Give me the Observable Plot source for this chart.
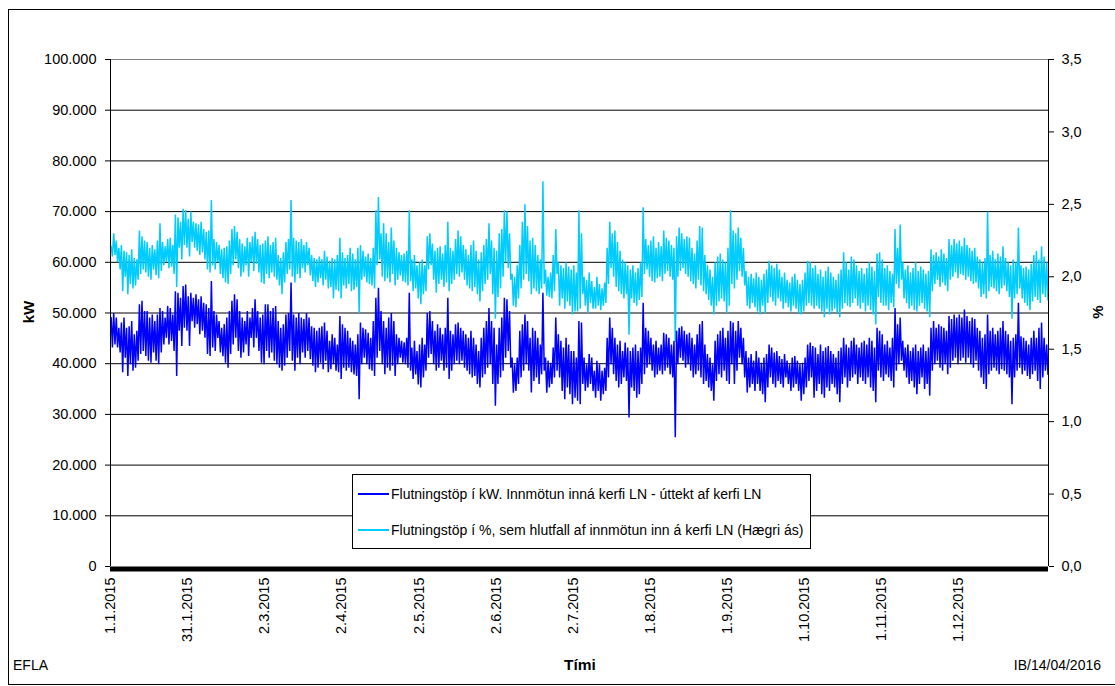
<!DOCTYPE html>
<html>
<head>
<meta charset="utf-8">
<script src="https://cdn.jsdelivr.net/npm/d3@7"></script>
<script src="https://cdn.jsdelivr.net/npm/@observablehq/plot@0.6"></script>
<style>
  html, body { margin: 0; padding: 0; background: #fff; }
  #root { position: relative; width: 1115px; height: 686px; overflow: hidden; background: #fff;
          font-family: "Liberation Sans", Arial, sans-serif; color: #000; }
  #chart { position: absolute; left: 0; top: 0; }
  .abs { position: absolute; white-space: nowrap; }
  .rot { transform: translate(-50%, -50%) rotate(-90deg); font-weight: bold; font-size: 15px; }
</style>
</head>
<body>
<div id="root">
  <div id="chart"></div>
  <div class="abs" style="left:8px;top:9px;width:1130px;height:674px;border:1px solid #000;pointer-events:none"></div>
  <div id="legend" class="abs" style="left:352px;top:474px;width:457px;height:73px;border:1px solid #000;background:#fff;font-size:14px"></div>
  <div id="ylabL" class="abs rot" style="left:28px;top:312px"></div>
  <div id="ylabR" class="abs rot" style="left:1097px;top:312px"></div>
  <div id="xlab" class="abs" style="left:580px;top:665px;transform:translate(-50%,-50%);font-weight:bold;font-size:15.5px"></div>
  <div id="noteL" class="abs" style="left:13px;top:657px;font-size:14px;line-height:16px"></div>
  <div id="noteR" class="abs" style="right:14px;top:657px;font-size:14px;line-height:16px"></div>
</div>
<script>
// ---- Data (one hi / lo reading per day of 2015, hourly series) ----
const seriesNames = [
  "Flutningstöp í kW. Innmötun inná kerfi LN - úttekt af kerfi LN",
  "Flutningstöp í %, sem hlutfall af innmötun inn á kerfi LN (Hægri ás)"
];
const seriesColors = ["#0000ff", "#00ccff"];

const xTickLabels = ["1.1.2015","31.1.2015","2.3.2015","2.4.2015","2.5.2015","2.6.2015",
  "2.7.2015","1.8.2015","1.9.2015","1.10.2015","1.11.2015","1.12.2015"];
const kwTicks = [0,10000,20000,30000,40000,50000,60000,70000,80000,90000,100000];
const pctTicks = [0,0.5,1,1.5,2,2.5,3,3.5];

// kW losses, daily high
const blueHi = [
49100,50000,49100,47100,48100,49100,47100,47400,48400,45800,
46500,51700,52400,50400,50400,49100,49700,48400,49700,51000,
50400,49100,51400,51000,49700,54300,54000,53000,55300,55600,
53300,54000,53000,53700,52700,53300,52000,51700,51000,56300,
50400,49700,48400,47100,47800,49100,50400,52400,53700,52700,
50400,49100,48400,50400,49100,51000,52700,50400,49100,49700,
51700,51700,50400,51000,51400,48400,47100,47800,49700,50000,
56000,49700,49100,50000,49100,48800,50000,49100,47400,47100,
46500,47100,47400,48100,46500,44500,45800,45100,43800,49400,
47800,47100,46500,45100,44500,43800,45800,48100,47100,46800,
46100,45100,48400,53000,55000,50400,48400,47100,49100,50000,
48400,45800,45100,44500,44200,45100,54000,43200,44500,42500,
43800,45100,43800,50000,50400,48400,46500,47800,47100,45800,
47100,53000,46500,45800,47800,48100,47100,46500,45800,45100,
46500,45100,43800,42500,45100,47100,48400,51000,48400,47100,
43800,47100,49100,53000,52700,50400,41200,39900,41200,46500,
47800,49700,48400,45100,47100,46500,45100,43800,54000,41200,
40600,40200,43200,49100,45800,44500,43200,45100,43800,42500,
42500,41200,48400,48100,41200,39900,41900,41200,38600,40600,
39900,38600,39200,45100,49100,47100,45100,43800,44500,42500,
44200,43200,42500,43200,43800,42500,43200,52000,47100,46500,
45100,43800,44500,43200,43800,46100,45800,45100,43800,44500,
46500,47100,47400,46500,45800,46100,45100,43800,45800,47800,
48400,43800,41900,41200,39900,44500,45800,46500,47100,45100,
46500,48400,48100,46500,48400,47100,45100,42500,41200,41900,
40600,42500,41200,40200,41200,41900,43800,43200,42200,42500,
41500,40900,41900,40600,39900,41200,41500,40600,39900,40200,
41200,43800,44200,43500,43200,41900,43800,42500,43200,43500,
42500,41900,41200,42500,43200,45100,43800,43200,44500,45100,
43800,43200,44200,44500,43800,45100,44500,43200,47100,46500,
45800,43800,44500,43200,45100,51000,47800,49100,44500,43200,
43800,42500,43200,43800,42500,43200,43800,42500,43200,47100,
48400,47100,47800,47400,47100,46500,49400,48800,49700,49100,
49700,49100,50700,49400,48400,49100,48800,47100,46500,45100,
45800,49700,46500,47100,45800,46500,47100,48400,46500,45800,
44500,45100,45800,52000,45400,45100,44500,43800,45100,46500,
45100,47100,48100,45100,43800];

// kW losses, daily low
const blueLo = [
43200,43800,43200,42200,38300,41200,37600,39900,38600,39200,
40600,41900,42500,41500,40600,40200,42200,40600,39900,42200,
43800,45100,43800,44500,42500,37600,46500,43500,47100,46500,
43500,48400,47100,47800,45800,46500,45100,41900,41500,43200,
42500,45100,42200,41500,40200,39200,41900,43800,45100,42500,
41200,42200,43800,41500,45100,43200,45100,42500,40200,39900,
42500,41200,42200,40600,39900,39200,38600,39600,41200,42500,
40600,38600,41200,39900,42200,41200,42500,40900,39600,38300,
39200,40200,38900,40600,38300,38900,39900,38600,38300,37000,
39200,38600,39200,38300,37900,37600,33000,39900,41200,39900,
38900,38600,37600,41200,42500,39900,37900,39200,38600,39600,
37600,39900,41200,40200,39900,39200,38600,37000,37900,35900,
35300,37300,38600,41200,41900,39900,38600,39200,40600,38600,
39200,37000,38600,39900,40600,39900,40600,39200,38600,37900,
37300,37600,36000,35300,37300,37900,39200,39900,36000,31700,
36000,37300,38600,41200,42500,39200,34300,34600,36000,37300,
38600,39900,38600,34300,36600,37300,36000,37900,38600,34300,
35300,36000,37300,38600,37300,34600,33000,35300,34000,32000,
33300,32700,32000,36000,34600,35300,36000,34600,33300,34600,
32700,34000,34600,37300,39900,37900,36600,35300,36000,37300,
36600,29400,35300,34600,33300,34000,36000,37900,39200,39900,
38600,37300,37900,38600,37900,38600,39200,37900,37300,25500,
39900,41200,40600,39200,39900,38600,37300,37900,38600,37300,
36000,36600,35300,34600,32700,36600,37900,37300,38600,36600,
36000,39900,36000,38600,41200,39900,37300,34300,35300,36000,
34600,36000,34600,34000,32400,35300,37300,36000,35300,36600,
36000,35300,37300,36000,34600,35300,36000,34600,32700,34000,
35300,36600,37300,33300,34600,36000,34000,33300,35300,34600,
36000,35300,34000,32400,36000,37300,35300,36600,37300,37900,
36000,37300,36600,36000,37300,35300,34600,32400,38600,37300,
36600,37900,37300,36600,35300,38600,39900,40600,38600,37300,
36000,36600,35300,34000,36000,37300,35000,36000,33700,38600,
39900,40600,39200,38600,39900,37900,39200,40600,41200,39900,
40600,41200,40200,41200,39900,39200,40600,38600,37300,36000,
35000,37900,38600,39200,38600,37900,38900,38600,37900,37300,
32000,37300,38600,39200,37900,38600,37600,37000,37900,38600,
36600,35000,37300,38600,37900];

// % losses, daily high
const cyanHi = [
2.21,2.30,2.25,2.20,2.22,2.18,2.17,2.15,2.19,2.13,
2.12,2.32,2.28,2.25,2.24,2.20,2.22,2.19,2.25,2.37,
2.24,2.21,2.26,2.27,2.22,2.43,2.41,2.38,2.47,2.46,
2.40,2.45,2.38,2.37,2.36,2.38,2.33,2.31,2.32,2.53,
2.26,2.24,2.22,2.19,2.20,2.21,2.25,2.33,2.35,2.31,
2.26,2.23,2.21,2.27,2.24,2.28,2.31,2.26,2.22,2.23,
2.25,2.28,2.22,2.24,2.27,2.15,2.13,2.17,2.24,2.26,
2.53,2.27,2.25,2.24,2.26,2.22,2.24,2.20,2.15,2.13,
2.12,2.14,2.12,2.18,2.14,2.11,2.13,2.12,2.15,2.27,
2.17,2.13,2.15,2.20,2.16,2.12,2.20,2.22,2.18,2.14,
2.16,2.13,2.20,2.46,2.55,2.30,2.37,2.30,2.24,2.34,
2.25,2.20,2.17,2.15,2.16,2.18,2.46,2.12,2.15,2.08,
2.10,2.12,2.08,2.28,2.30,2.23,2.18,2.20,2.21,2.16,
2.22,2.38,2.20,2.18,2.26,2.32,2.28,2.22,2.19,2.15,
2.22,2.25,2.18,2.12,2.17,2.22,2.26,2.37,2.25,2.20,
2.18,2.30,2.33,2.46,2.45,2.30,2.02,2.00,2.08,2.22,
2.38,2.50,2.35,2.25,2.27,2.22,2.15,2.12,2.66,2.05,
2.00,2.03,2.15,2.33,2.10,2.08,2.06,2.10,2.07,2.05,
2.08,2.03,2.46,2.30,2.00,1.98,2.03,1.97,1.93,2.00,
1.95,1.92,1.96,2.20,2.38,2.30,2.32,2.24,2.18,2.12,
2.10,2.08,2.05,2.08,2.03,2.06,2.10,2.48,2.26,2.22,
2.25,2.28,2.20,2.24,2.21,2.32,2.27,2.25,2.22,2.20,
2.28,2.34,2.30,2.26,2.28,2.27,2.20,2.16,2.25,2.35,
2.34,2.15,2.08,2.05,2.00,2.10,2.14,2.16,2.12,2.10,
2.20,2.46,2.32,2.30,2.34,2.27,2.20,2.04,2.00,2.02,
1.99,2.03,2.00,1.98,2.02,2.05,2.11,2.08,2.06,2.09,
2.05,2.00,2.03,1.98,1.96,2.00,2.02,1.98,1.95,1.98,
2.03,2.11,2.10,2.06,2.08,2.02,2.05,2.00,2.04,2.07,
2.03,2.00,1.98,2.02,2.05,2.17,2.10,2.05,2.14,2.12,
2.08,2.04,2.06,2.02,2.06,2.10,2.07,2.04,2.16,2.17,
2.12,2.06,2.08,2.04,2.02,2.33,2.20,2.36,2.10,2.05,
2.08,2.03,2.06,2.10,2.04,2.07,2.05,2.02,2.04,2.19,
2.15,2.17,2.14,2.19,2.16,2.13,2.26,2.22,2.26,2.23,
2.25,2.21,2.27,2.22,2.20,2.18,2.20,2.14,2.12,2.10,
2.13,2.45,2.15,2.18,2.12,2.16,2.14,2.21,2.13,2.10,
2.08,2.12,2.10,2.34,2.08,2.06,2.07,2.05,2.09,2.15,
2.18,2.12,2.21,2.14,2.10];

// % losses, daily low
const cyanLo = [
2.14,2.15,2.10,2.05,1.90,2.00,1.88,1.95,1.92,1.94,
1.98,2.02,2.05,2.03,2.00,1.98,2.05,2.01,1.99,2.04,
2.08,2.10,2.06,2.07,2.02,1.93,2.20,2.12,2.22,2.20,
2.14,2.24,2.20,2.18,2.15,2.17,2.12,2.05,2.03,2.08,
2.05,2.10,2.02,1.99,1.96,1.95,2.02,2.08,2.12,2.06,
2.00,2.03,2.08,2.00,2.10,2.04,2.09,2.03,1.96,1.95,
2.02,1.99,2.03,2.00,1.98,1.94,1.88,1.96,2.02,2.05,
2.00,1.96,2.02,1.99,2.06,2.03,2.08,2.01,1.97,1.93,
1.96,1.99,1.94,1.98,1.92,1.93,1.85,1.91,1.90,1.85,
1.94,1.92,1.95,1.90,1.91,1.93,1.75,1.98,2.00,1.96,
1.95,1.94,1.92,2.08,2.12,2.00,1.97,1.99,1.96,2.02,
1.94,1.98,2.01,1.97,1.96,1.94,1.97,1.90,1.92,1.85,
1.81,1.88,1.90,2.05,2.08,1.98,1.89,1.95,1.98,1.93,
1.96,1.90,1.95,1.98,2.02,2.00,2.03,1.98,1.94,1.92,
1.90,1.93,1.88,1.83,1.90,1.95,1.98,2.02,1.88,1.71,
1.86,1.92,2.00,2.10,2.06,1.98,1.80,1.79,1.85,1.92,
1.98,2.02,1.97,1.88,1.92,1.90,1.88,1.92,1.95,1.87,
1.86,1.85,1.90,2.02,1.80,1.85,1.78,1.83,1.80,1.74,
1.76,1.76,1.78,1.88,1.80,1.75,1.82,1.78,1.78,1.80,
1.77,1.80,1.82,1.95,2.06,2.00,1.93,1.90,1.88,1.85,
1.88,1.60,1.85,1.82,1.80,1.84,1.86,2.02,2.05,2.00,
1.97,1.96,1.99,2.00,1.97,2.02,2.04,2.00,1.98,1.55,
2.00,2.04,2.06,2.02,2.00,1.97,1.95,1.92,1.98,1.94,
1.90,1.88,1.84,1.80,1.74,1.80,1.83,1.85,1.83,1.75,
1.80,1.95,1.92,1.98,2.04,2.00,1.94,1.80,1.78,1.82,
1.79,1.76,1.74,1.80,1.75,1.82,1.86,1.83,1.80,1.85,
1.83,1.78,1.82,1.79,1.76,1.80,1.78,1.75,1.74,1.76,
1.80,1.82,1.80,1.78,1.80,1.78,1.76,1.72,1.78,1.74,
1.76,1.78,1.75,1.72,1.78,1.82,1.80,1.79,1.82,1.85,
1.80,1.78,1.82,1.76,1.80,1.77,1.74,1.67,1.86,1.82,
1.80,1.80,1.77,1.82,1.79,1.95,1.92,1.98,1.85,1.82,
1.78,1.80,1.77,1.76,1.80,1.82,1.78,1.76,1.72,1.90,
1.95,1.98,1.93,1.96,1.94,1.90,1.98,2.00,2.03,1.99,
2.02,2.01,1.98,2.00,1.97,1.95,1.96,1.92,1.86,1.88,
1.85,1.90,1.93,1.92,1.90,1.88,1.92,1.94,1.90,1.86,
1.71,1.85,1.88,1.92,1.85,1.82,1.80,1.77,1.83,1.86,
1.84,1.82,1.88,1.86,1.84];

const texts = { yLeft: "kW", yRight: "%", x: "Tími", noteLeft: "EFLA", noteRight: "IB/14/04/2016" };

// ---- Build ----
const kwMax = 100000, pctMax = 3.5, hoursPerDay = 24, hoursPerTick = 720, nHours = 8760;
const days = d3.range(blueHi.length);
const blueData = days.flatMap(i => [{h: i*hoursPerDay + 6, v: blueHi[i]}, {h: i*hoursPerDay + 18, v: blueLo[i]}]);
const cyanData = days.flatMap(i => [{h: i*hoursPerDay + 6, v: cyanHi[i]}, {h: i*hoursPerDay + 18, v: cyanLo[i]}]);
const toLeft = p => p / pctMax * kwMax;

const isl = d3.formatLocale({decimal: ",", thousands: ".", grouping: [3], currency: ["", " kr."]});
const fmtKw = isl.format(",");
const xTicks = xTickLabels.map((_, i) => i * hoursPerTick);

const chart = Plot.plot({
  width: 1115, height: 686,
  marginLeft: 110, marginRight: 67, marginTop: 59, marginBottom: 120,
  style: {fontFamily: '"Liberation Sans", Arial, sans-serif', fontSize: "14.5px", color: "#000", background: "transparent", overflow: "visible"},
  x: {domain: [0, nHours - 1]},
  y: {domain: [0, kwMax]},
  marks: [
    Plot.gridY(kwTicks.filter(t => t > 0 && t < kwMax), {stroke: "#000", strokeOpacity: 1}),
    Plot.ruleY([kwMax], {stroke: "#808080"}),
    Plot.line(cyanData, {x: "h", y: d => toLeft(d.v), stroke: seriesColors[1], strokeWidth: 1.5, strokeLinejoin: "miter"}),
    Plot.line(blueData, {x: "h", y: "v", stroke: seriesColors[0], strokeWidth: 1.5, strokeLinejoin: "miter"}),
    Plot.ruleX([0, nHours - 1], {stroke: "#000"}),
    Plot.ruleY([0], {stroke: "#000", strokeWidth: 5, dy: 2.5}),
    Plot.axisY({ticks: kwTicks, tickFormat: fmtKw, tickSize: 5, tickPadding: 9, label: null}),
    Plot.axisY({anchor: "right", ticks: pctTicks.map(toLeft),
      tickFormat: d => (d / kwMax * pctMax).toFixed(1).replace(".", ","), tickSize: 5, tickPadding: 8, label: null}),
    Plot.axisX({ticks: xTicks, tickFormat: d => xTickLabels[Math.round(d / hoursPerTick)],
      tickRotate: -90, tickSize: 0, tickPadding: 11, label: null})
  ]
});
document.getElementById("chart").appendChild(chart);

// Legend
const legend = d3.select("#legend");
seriesNames.forEach((name, i) => {
  const cy = 19 + i * 36;
  legend.append("div").attr("class", "abs")
    .style("left", "5px").style("top", (cy - 1) + "px").style("width", "31px").style("height", "0")
    .style("border-top", "2px solid " + seriesColors[i]);
  legend.append("div").attr("class", "abs")
    .style("left", "38px").style("top", (cy - 8) + "px").style("line-height", "16px")
    .text(name);
});
document.getElementById("ylabL").textContent = texts.yLeft;
document.getElementById("ylabR").textContent = texts.yRight;
document.getElementById("xlab").textContent = texts.x;
document.getElementById("noteL").textContent = texts.noteLeft;
document.getElementById("noteR").textContent = texts.noteRight;
</script>
</body>
</html>
